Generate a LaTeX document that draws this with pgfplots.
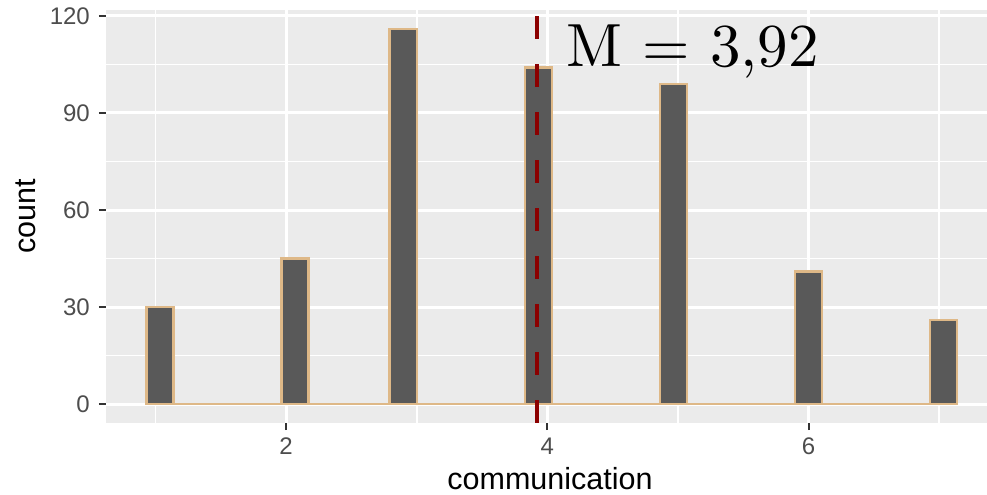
\documentclass[border=0pt]{standalone}
\usepackage{fontspec}
\usepackage{pgfplots}
\pgfplotsset{compat=1.18}
\newfontfamily\lsans{Liberation Sans}
\newfontfamily\lmten{lmroman10-regular.otf}
\definecolor{panelbg}{HTML}{EBEBEB}
\definecolor{barfill}{HTML}{595959}
\definecolor{barline}{HTML}{DEB887}
\definecolor{ticklab}{HTML}{4D4D4D}
\definecolor{tickcol}{HTML}{333333}
\definecolor{mline}{HTML}{8B0000}
\begin{document}
\begin{tikzpicture}
\begin{axis}[
  at={(106bp,72bp)}, anchor=south west,
  scale only axis, width=881bp, height=413bp,
  xmin=0.6207, xmax=7.366, ymin=-5.8, ymax=121.8,
  axis background/.style={fill=panelbg},
  axis line style={draw=none},
  xtick={2,4,6}, ytick={0,30,60,90,120},
  minor xtick={1,3,5,7}, minor ytick={15,45,75,105},
  grid=both,
  major grid style={white, line width=3bp},
  minor grid style={white, line width=1.5bp},
  tick align=outside, tickpos=left,
  major tick length=7bp, minor tick length=0pt,
  major tick style={tickcol, line width=2bp},
  /pgf/number format/assume math mode=true,
  yticklabel style={font=\lsans\fontsize{24bp}{24bp}\selectfont, text=ticklab, anchor=east, inner sep=0pt, xshift=-9bp},
  xticklabel style={font=\lsans\fontsize{24bp}{24bp}\selectfont, text=ticklab, anchor=north, inner sep=0pt, yshift=-8bp},
  ylabel={count},
  ylabel style={font=\lsans\fontsize{30.5bp}{30.5bp}\selectfont, at={([xshift=-80bp]axis description cs:0,0.5)}, anchor=center},
  xlabel={communication},
  xlabel style={font=\lsans\fontsize{30.5bp}{30.5bp}\selectfont, at={([xshift=3.5bp,yshift=-66bp]axis description cs:0.5,0)}, anchor=base},
]
\addplot[ybar interval, fill=barfill, draw=barline, line width=2.5bp] coordinates {
(0.931034,30) (1.137931,0) (1.344828,0) (1.551724,0) (1.758621,0)
(1.965517,45) (2.172414,0) (2.379310,0) (2.586207,0) (2.793103,116)
(3.000000,0) (3.206897,0) (3.413793,0) (3.620690,0) (3.827586,104)
(4.034483,0) (4.241379,0) (4.448276,0) (4.655172,0) (4.862069,99)
(5.068966,0) (5.275862,0) (5.482759,0) (5.689655,0) (5.896552,41)
(6.103448,0) (6.310345,0) (6.517241,0) (6.724138,0) (6.931034,26)
(7.137931,0)
};
\addplot[mline, line width=4bp, dash pattern=on 23bp off 25bp] coordinates {(3.92,-5.8) (3.92,121.8)};
\node[anchor=base west, inner sep=0pt, font=\lmten\fontsize{61bp}{61bp}\selectfont] at (axis cs:4.143,104.2) {M = 3,92};
\end{axis}
\pgfresetboundingbox
\useasboundingbox (0,0) rectangle (987bp,495bp);
\end{tikzpicture}
\end{document}
